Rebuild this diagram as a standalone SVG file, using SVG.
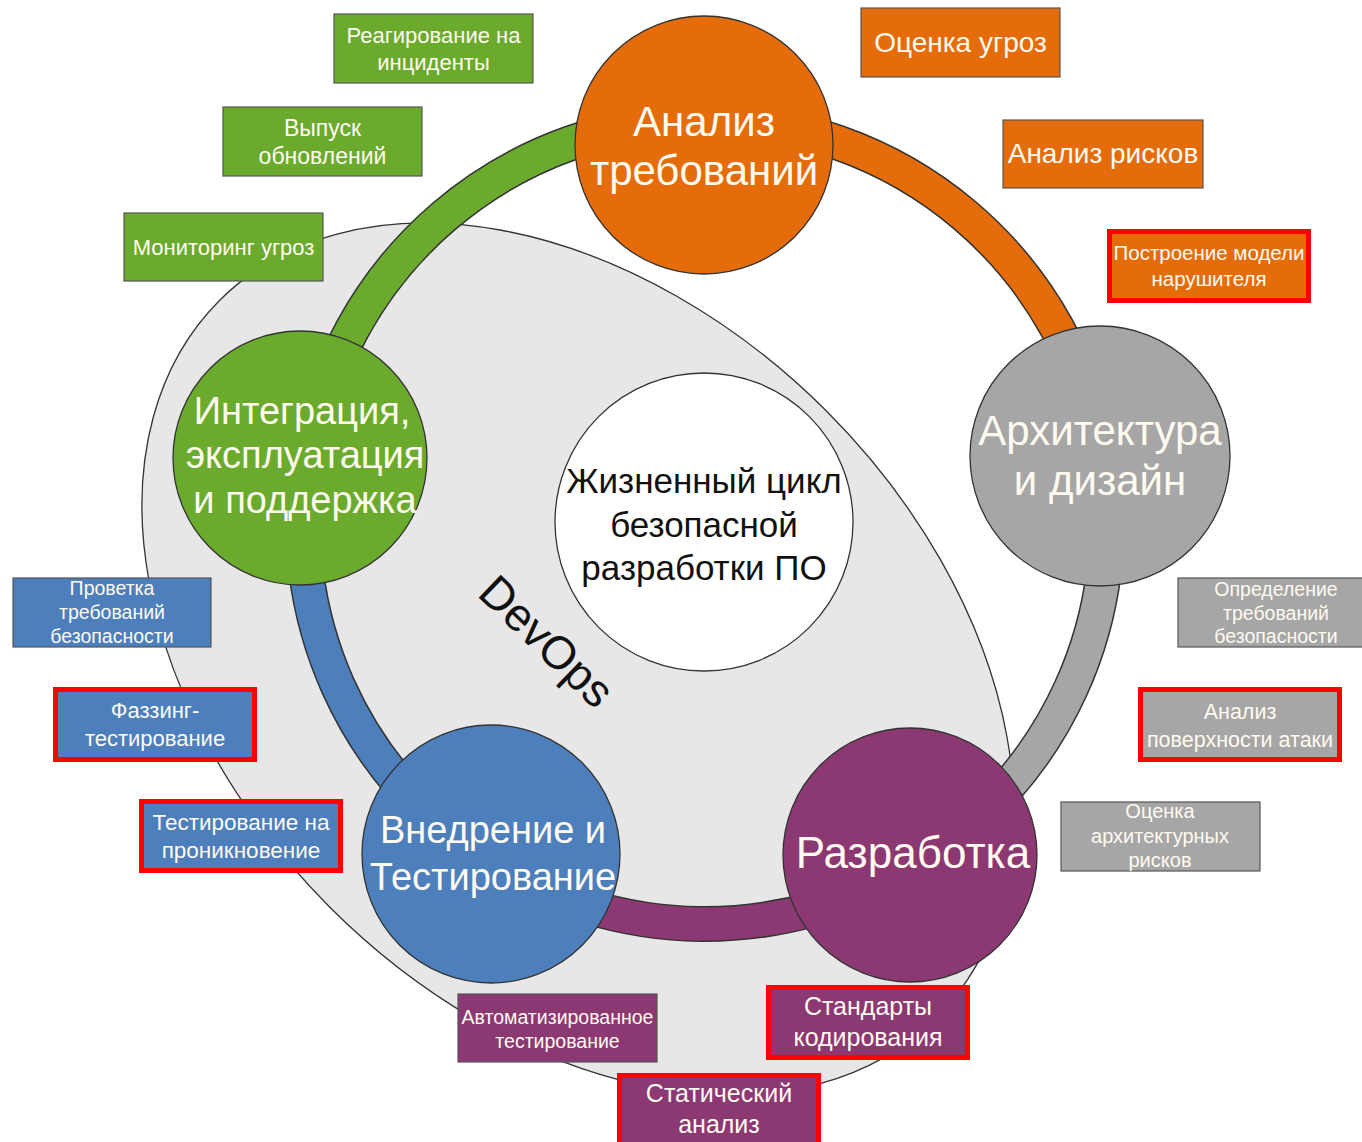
<svg xmlns="http://www.w3.org/2000/svg" width="1362" height="1142" viewBox="0 0 1362 1142">
<style>
text{font-family:"Liberation Sans",Arial,sans-serif;text-anchor:middle;fill:#fffaf0}
.edge{fill:none;stroke:#333;stroke-width:36}
.band{fill:none;stroke-width:33}
.circ{stroke:#333;stroke-width:1.3}
.box{stroke:#555;stroke-width:1.2}
.hl{stroke:#ff0000;stroke-width:5}
.or{fill:#e46c0a}.gr{fill:#a6a6a6}.pu{fill:#8c3872}.bl{fill:#4c7fbc}.gn{fill:#6aab2d}
.sor{stroke:#e46c0a}.sgr{stroke:#a6a6a6}.spu{stroke:#8c3872}.sbl{stroke:#4c7fbc}.sgn{stroke:#6aab2d}
.dark{fill:#111}
</style>

<g id="devops">
<ellipse cx="578" cy="659" rx="507" ry="351" transform="rotate(45 578 659)" fill="#e7e7e7" stroke="#333" stroke-width="1.3"/>
<text class="dark" x="476" y="595" font-size="46" style="text-anchor:start;fill:#111" transform="rotate(44 476 595)">DevOps</text>
</g>

<g id="connectors">
<path class="edge" d="M705 120 A402 402 0 0 1 1101.5 455.7"/>
<path class="band sor" d="M705 120 A402 402 0 0 1 1101.5 455.7"/>
<path class="edge" d="M1101.5 455.7 A402 402 0 0 1 915.6 864.4"/>
<path class="band sgr" d="M1101.5 455.7 A402 402 0 0 1 915.6 864.4"/>
<path class="edge" d="M915.6 864.4 A402 402 0 0 1 487.2 859.9"/>
<path class="band spu" d="M915.6 864.4 A402 402 0 0 1 487.2 859.9"/>
<path class="edge" d="M487.2 859.9 A402 402 0 0 1 308 459.1"/>
<path class="band sbl" d="M487.2 859.9 A402 402 0 0 1 308 459.1"/>
<path class="edge" d="M308 459.1 A402 402 0 0 1 705 120"/>
<path class="band sgn" d="M308 459.1 A402 402 0 0 1 705 120"/>
</g>

<g id="center">
<circle cx="704" cy="522" r="149" fill="#fff" stroke="#333" stroke-width="1.3"/>
<text x="704" y="493" font-size="35" style="fill:#111">Жизненный цикл</text>
<text x="704" y="537" font-size="35" style="fill:#111">безопасной</text>
<text x="704" y="580" font-size="35" style="fill:#111">разработки ПО</text>
</g>

<g id="node-analysis">
<circle class="circ or" cx="704" cy="145" r="129"/>
<text x="704" y="136" font-size="42">Анализ</text>
<text x="704" y="185" font-size="42">требований</text>
</g>

<g id="node-architecture">
<circle class="circ gr" cx="1100" cy="456" r="130"/>
<text x="1100" y="445" font-size="42">Архитектура</text>
<text x="1100" y="495" font-size="42">и дизайн</text>
</g>

<g id="node-development">
<circle class="circ pu" cx="910" cy="855" r="127"/>
<text x="913" y="868" font-size="44">Разработка</text>
</g>

<g id="node-testing">
<circle class="circ bl" cx="491" cy="854" r="129"/>
<text x="493" y="843" font-size="38">Внедрение и</text>
<text x="493" y="890" font-size="38">Тестирование</text>
</g>

<g id="node-integration">
<circle class="circ gn" cx="300" cy="458" r="127"/>
<text x="302" y="424" font-size="38">Интеграция,</text>
<text x="305" y="468" font-size="38">эксплуатация</text>
<text x="305" y="513" font-size="38">и поддержка</text>
</g>

<g id="box-incidents">
<rect class="box gn" x="334" y="14" width="199" height="69"/>
<text x="433.5" y="43" font-size="22">Реагирование на</text>
<text x="433.5" y="70" font-size="22">инциденты</text>
</g>
<g id="box-updates">
<rect class="box gn" x="223" y="107" width="199" height="69"/>
<text x="322.5" y="136" font-size="23">Выпуск</text>
<text x="322.5" y="164" font-size="23">обновлений</text>
</g>
<g id="box-monitoring">
<rect class="box gn" x="124" y="213" width="199" height="68"/>
<text x="223.5" y="255" font-size="22">Мониторинг угроз</text>
</g>

<g id="box-threats">
<rect class="box or" x="861" y="8" width="199" height="69"/>
<text x="960.5" y="52" font-size="28">Оценка угроз</text>
</g>
<g id="box-risks">
<rect class="box or" x="1003" y="120" width="200" height="68"/>
<text x="1103" y="163" font-size="28">Анализ рисков</text>
</g>
<g id="box-intruder">
<rect class="hl or" x="1109.5" y="231.5" width="199" height="69"/>
<text x="1209" y="260" font-size="20.5">Построение модели</text>
<text x="1209" y="286" font-size="20.5">нарушителя</text>
</g>

<g id="box-secreq">
<rect class="box gr" x="1178" y="578" width="199" height="69"/>
<text x="1276" y="596" font-size="19.5">Определение</text>
<text x="1276" y="620" font-size="19.5">требований</text>
<text x="1276" y="643" font-size="19.5">безопасности</text>
</g>
<g id="box-attack">
<rect class="hl gr" x="1140.5" y="689.5" width="199" height="70"/>
<text x="1240" y="719" font-size="21.5">Анализ</text>
<text x="1240" y="747" font-size="21.5">поверхности атаки</text>
</g>
<g id="box-archrisk">
<rect class="box gr" x="1061" y="802" width="199" height="69"/>
<text x="1160" y="818" font-size="20">Оценка</text>
<text x="1160" y="843" font-size="20">архитектурных</text>
<text x="1160" y="867" font-size="20">рисков</text>
</g>

<g id="box-reqcheck">
<rect class="box bl" x="13" y="578" width="198" height="69"/>
<text x="112" y="595" font-size="19.5">Проветка</text>
<text x="112" y="619" font-size="19.5">требований</text>
<text x="112" y="643" font-size="19.5">безопасности</text>
</g>
<g id="box-fuzzing">
<rect class="hl bl" x="55.5" y="689.5" width="199" height="70"/>
<text x="155" y="718" font-size="22">Фаззинг-</text>
<text x="155" y="746" font-size="22">тестирование</text>
</g>
<g id="box-pentest">
<rect class="hl bl" x="141.5" y="801.5" width="199" height="69"/>
<text x="241" y="830" font-size="22.5">Тестирование на</text>
<text x="241" y="858" font-size="22.5">проникновение</text>
</g>

<g id="box-autotest">
<rect class="box pu" x="458" y="994" width="199" height="68"/>
<text x="557.5" y="1024" font-size="19.5">Автоматизированное</text>
<text x="557.5" y="1048" font-size="19.5">тестирование</text>
</g>
<g id="box-coding">
<rect class="hl pu" x="768.5" y="987.5" width="199" height="70"/>
<text x="868" y="1015" font-size="25">Стандарты</text>
<text x="868" y="1046" font-size="25">кодирования</text>
</g>
<g id="box-static">
<rect class="hl pu" x="619.5" y="1075.5" width="199" height="70"/>
<text x="719" y="1102" font-size="25">Статический</text>
<text x="719" y="1133" font-size="25">анализ</text>
</g>
</svg>
